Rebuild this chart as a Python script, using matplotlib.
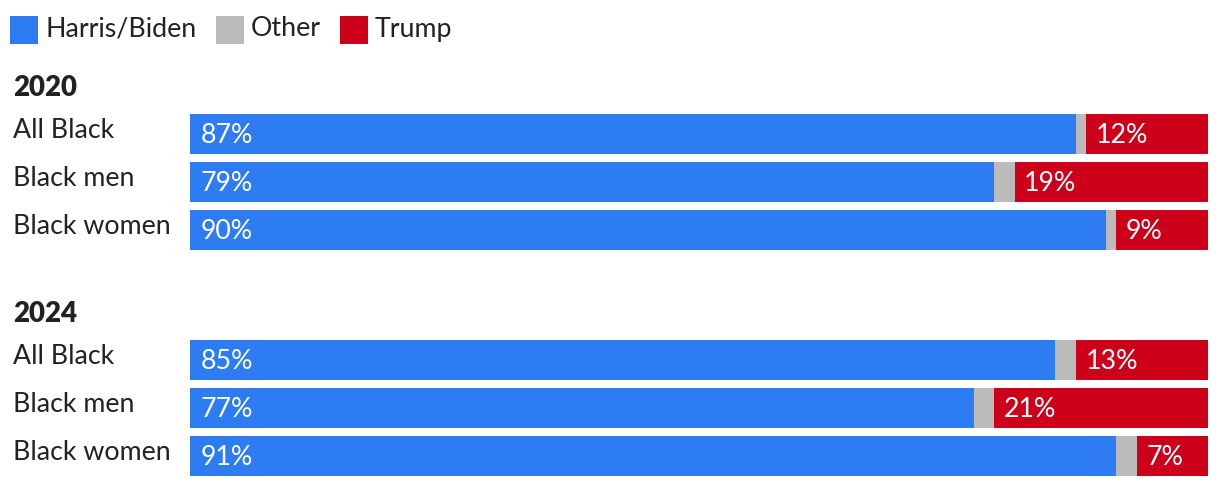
import matplotlib
matplotlib.use("Agg")
import matplotlib.pyplot as plt
from matplotlib.patches import Rectangle

years = ["2020", "2024"]
groups = ["All Black", "Black men", "Black women"]
harris_biden = [[87, 79, 90], [85, 77, 91]]
other = [[1, 2, 1], [2, 2, 2]]
trump = [[12, 19, 9], [13, 21, 7]]
legend_labels = ["Harris/Biden", "Other", "Trump"]

BLUE = "#2d7cf2"
GRAY = "#bbbbbb"
RED = "#cc0018"
TEXT = "#222222"
FONT = "Lato"

W, H = 1220, 486
fig = plt.figure(figsize=(W / 100, H / 100), dpi=100)
plt.rcParams["font.family"] = [FONT, "DejaVu Sans"]

x0, x1 = 190, 1208
ax = fig.add_axes([x0 / W, 0, (x1 - x0) / W, 1])
ax.set_xlim(0, 100)
ax.set_ylim(H, 0)
ax.axis("off")

bar_h = 40
pitch = 48
group_top = [114, 340]
title_y = [88, 314]
fs = 19.3

def px(x, y):
    return x / W, 1 - y / H

for g, yr in enumerate(years):
    fig.text(*px(13, title_y[g]), yr, fontsize=fs + 0.6, fontweight="heavy",
             color=TEXT, va="center", ha="left")
    for i, name in enumerate(groups):
        yc = group_top[g] + i * pitch + bar_h / 2
        hb = harris_biden[g][i]
        ot = other[g][i]
        tr = trump[g][i]
        ax.barh(yc, hb, height=bar_h, left=0, color=BLUE, linewidth=0)
        ax.barh(yc, ot, height=bar_h, left=hb, color=GRAY, linewidth=0)
        ax.barh(yc, tr, height=bar_h, left=hb + ot, color=RED, linewidth=0)
        ax.text(1.05, yc + 1.5, f"{hb}%", color="white", fontsize=fs,
                va="center", ha="left")
        ax.text(hb + ot + 0.95, yc + 1.5, f"{tr}%", color="white", fontsize=fs,
                va="center", ha="left")
        fig.text(*px(13, yc - 3.5), name, fontsize=fs, color=TEXT,
                 va="center", ha="left")

# legend
leg_x = [10, 216, 340]
leg_colors = [BLUE, GRAY, RED]
for lx, c, lab in zip(leg_x, leg_colors, legend_labels):
    fig.patches.append(Rectangle(px(lx, 44), 28 / W, 28 / H,
                                 transform=fig.transFigure, color=c,
                                 linewidth=0))
    fig.text(*px(lx + 35, 29), lab, fontsize=fs, color=TEXT,
             va="center", ha="left")

fig.savefig("out.png", dpi=100)
